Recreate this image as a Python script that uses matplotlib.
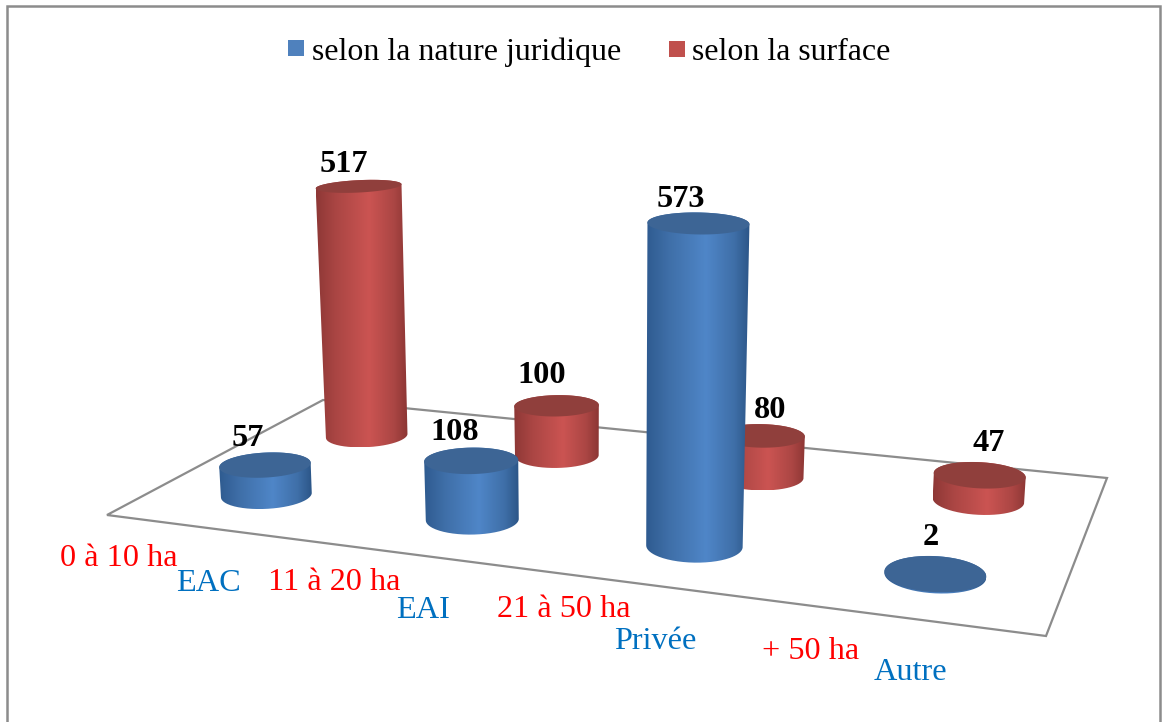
import numpy as np
import matplotlib
matplotlib.use("Agg")
import matplotlib.pyplot as plt
from matplotlib.colors import LinearSegmentedColormap
from matplotlib.patches import Polygon, PathPatch, Rectangle
from matplotlib.path import Path

# ---- data ----
blue_labels = ["EAC", "EAI", "Privée", "Autre"]
blue_values = [57, 108, 573, 2]
red_labels = ["0 à 10 ha", "11 à 20 ha", "21 à 50 ha", "+ 50 ha"]
red_values = [517, 100, 80, 47]
legend_names = ["selon la nature juridique", "selon la surface"]

# ---- layout ----
W, H = 1162, 722
FLOOR = [(107, 515), (1046, 636), (1107, 478), (323, 400)]  # front-left, front-right, back-right, back-left
GRAY = "#8c8c8c"
SERIF = "Liberation Serif"
BLUE_ROW, RED_ROW = 0.25, 0.75
R_U, R_V = 0.049, 0.11
HEIGHT_K, HEIGHT_P = 0.538, 0.85
V_X, V_Y = 605, 7750

blue_label_off = [(-17, -27), (-17, -28), (-18, -23.5), (-5, -36.5)]
red_label_off = [(-15, -22), (-15, -30), (9, -25), (9, -32)]
blue_text_pos = [(176, 591), (396, 618), (614, 649), (874, 680)]
red_text_pos = [(60, 566), (268, 590), (497, 617), (762, 659)]


def make_homography(q):
    (x0, y0), (x1, y1), (x2, y2), (x3, y3) = q
    dx1, dy1 = x1 - x2, y1 - y2
    dx2, dy2 = x3 - x2, y3 - y2
    sx, sy = x0 - x1 + x2 - x3, y0 - y1 + y2 - y3
    det = dx1 * dy2 - dx2 * dy1
    g = (sx * dy2 - dx2 * sy) / det
    h = (dx1 * sy - sx * dy1) / det
    a, b, c = x1 - x0 + g * x1, x3 - x0 + h * x3, x0
    d, e, f = y1 - y0 + g * y1, y3 - y0 + h * y3, y0

    def proj(u, v):
        w = g * u + h * v + 1
        return (a * u + b * v + c) / w, (d * u + e * v + f) / w, w
    return proj


project = make_homography(FLOOR)


def hull(points):
    pts = sorted(set(map(tuple, points)))

    def half(seq):
        out = []
        for p in seq:
            while len(out) > 1 and ((out[-1][0] - out[-2][0]) * (p[1] - out[-2][1])
                                    - (out[-1][1] - out[-2][1]) * (p[0] - out[-2][0])) <= 0:
                out.pop()
            out.append(p)
        return out[:-1]
    return np.array(half(pts) + half(pts[::-1]))


cmap_blue = LinearSegmentedColormap.from_list(
    "b", [(0, "#2f5b90"), (0.22, "#3f6fa8"), (0.58, "#4f86c8"), (0.85, "#3f6fa8"), (1, "#2c5688")])
cmap_red = LinearSegmentedColormap.from_list(
    "r", [(0, "#8e3836"), (0.22, "#ab4644"), (0.58, "#cb5452"), (0.85, "#ab4644"), (1, "#8c3634")])
TOP_BLUE, TOP_RED = "#3d6595", "#903f3c"


def cylinder(ax, i, row, value, cmap, top_color, z):
    u = (i + 0.5) / 4
    t = np.linspace(0, 2 * np.pi, 160, endpoint=False)
    cx, cy, w = project(u, row)
    bx, _, _ = project(u + R_U * np.cos(t), row + R_V * np.sin(t))
    rx = (bx.max() - bx.min()) / 2
    cx = cx + 3.5 * np.sin(np.pi * u)
    cy = cy + 1.5
    ry = 14.8 / w ** 2
    slope = (u - 0.5) * 0.13
    ex, ey = rx * np.cos(t), ry * np.sin(t)
    base = np.c_[cx + ex, cy + ey + slope * ex]
    rise = HEIGHT_K * value / w ** HEIGHT_P
    tcy = cy - rise
    tcx = cx + (cx - V_X) / (V_Y - cy) * rise
    grow = 1 + 1e-4 * value
    squash = (0.93 if value > 5 else 1) - 0.0015 * value * (w - 0.6)
    top = np.c_[tcx + ex * grow, tcy + (ey * squash + slope * ex) * grow]
    outline = hull(np.round(np.r_[base, top], 3))
    patch = PathPatch(Path(np.r_[outline, outline[:1]]), fc="none", ec="none", zorder=z)
    ax.add_patch(patch)
    x0, x1 = outline[:, 0].min(), outline[:, 0].max()
    y0, y1 = outline[:, 1].min(), outline[:, 1].max()
    im = ax.imshow(np.linspace(0, 1, 128)[None, :], cmap=cmap, vmin=0, vmax=1,
                   extent=(x0, x1, y1, y0), aspect="auto", zorder=z, interpolation="bilinear")
    im.set_clip_path(patch)
    ax.add_patch(Polygon(top, closed=True, fc=top_color, ec="none", zorder=z + 0.1))
    return tcx, tcy


fig = plt.figure(figsize=(W / 100, H / 100), dpi=100, facecolor="white")
ax = fig.add_axes((0, 0, 1, 1))

# frame and floor
ax.add_patch(Rectangle((7, 6), 1153, 760, fc="white", ec=GRAY, lw=1.8, zorder=0))
ax.add_patch(Polygon(FLOOR, closed=True, fc="white", ec=GRAY, lw=1.6, zorder=1))

# bars, back row first
for i, (val, off) in enumerate(zip(red_values, red_label_off)):
    tcx, tcy = cylinder(ax, i, RED_ROW, val, cmap_red, TOP_RED, 2 + i * 0.2)
    ax.text(tcx + off[0], tcy + off[1], str(val), family=SERIF, weight="bold", fontsize=23.3,
            ha="center", va="center", color="black", zorder=10)
for i, (val, off) in enumerate(zip(blue_values, blue_label_off)):
    tcx, tcy = cylinder(ax, i, BLUE_ROW, val, cmap_blue, TOP_BLUE, 4 + i * 0.2)
    ax.text(tcx + off[0], tcy + off[1], str(val), family=SERIF, weight="bold", fontsize=23.3,
            ha="center", va="center", color="black", zorder=10)

# category labels
for lab, (x, y) in zip(blue_labels, blue_text_pos):
    ax.text(x, y, lab, family=SERIF, fontsize=23.2, color="#0070c0", ha="left", va="baseline", zorder=10)
for lab, (x, y) in zip(red_labels, red_text_pos):
    ax.text(x, y, lab, family=SERIF, fontsize=23.2, color="#ff0000", ha="left", va="baseline", zorder=10)

# legend
ax.add_patch(Rectangle((288, 40), 16, 16, fc="#4f81bd", ec="none", zorder=10))
ax.add_patch(Rectangle((669, 41), 16, 16, fc="#c0504d", ec="none", zorder=10))
ax.text(312, 60, legend_names[0], family=SERIF, fontsize=22.95, ha="left", va="baseline", zorder=10)
ax.text(692, 60, legend_names[1], family=SERIF, fontsize=22.95, ha="left", va="baseline", zorder=10)

ax.set_xlim(0, W)
ax.set_ylim(H, 0)
ax.axis("off")
fig.savefig("out.png", dpi=100, facecolor="white")
